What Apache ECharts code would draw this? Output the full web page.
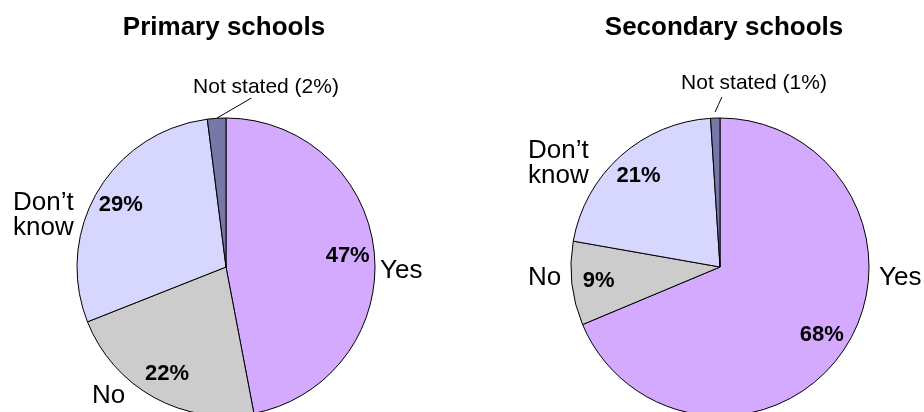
<!DOCTYPE html>
<html>
<head>
<meta charset="utf-8">
<script src="https://cdn.jsdelivr.net/npm/echarts@6/dist/echarts.min.js"></script>
<style>
html,body{margin:0;padding:0;background:#fff;}
#chart{width:924px;height:412px;}
</style>
</head>
<body>
<div id="chart"></div>
<script>
// ---- data ----
const categories = ['Yes', 'No', 'Don\u2019t\nknow', 'Not stated'];
const primaryValues = [47, 22, 29, 2];
const secondaryValues = [68, 9, 21, 1];
const chartTitles = ['Primary schools', 'Secondary schools'];

// ---- styles / layout ----
const colors = ['#d4aaff', '#cccccc', '#d6d6ff', '#7878a8'];
const FONT = 'Liberation Sans, Arial, sans-serif';
const R = 149;
const centers = [[226, 267], [720, 267]];
const labelPos = [
  [ {x: 380, y: 271, align: 'left'},
    {x: 92, y: 396, align: 'left'},
    {x: 13, y: 215, align: 'left'},
    {x: 266, y: 87, align: 'center'} ],
  [ {x: 879, y: 278, align: 'left'},
    {x: 528, y: 278, align: 'left'},
    {x: 528, y: 163, align: 'left'},
    {x: 754, y: 83, align: 'center'} ]
];
// leader line of the "Not stated" label: gap from the slice edge, end point under the label
const guide = [
  {gap: 0, endFrac: 0.40, endDy: 0},
  {gap: 6, endFrac: 0.28, endDy: 3}
];

function mainSeries(values, idx) {
  return {
    type: 'pie',
    center: centers[idx],
    radius: [0, R],
    startAngle: 90,
    clockwise: true,
    avoidLabelOverlap: false,
    animation: false,
    silent: true,
    itemStyle: { borderColor: '#000', borderWidth: 1 },
    label: {
      show: true, position: 'outside', color: '#000',
      fontFamily: FONT, fontSize: 26, lineHeight: 25
    },
    labelLine: { show: false },
    labelLayout: function (p) {
      const q = labelPos[idx][p.dataIndex];
      const out = { x: q.x, y: q.y, align: q.align, verticalAlign: 'middle' };
      if (p.dataIndex === 3 && p.labelLinePoints) {
        const c = centers[idx];
        const a = p.labelLinePoints[0];
        const dx = a[0] - c[0], dy = a[1] - c[1];
        const len = Math.sqrt(dx * dx + dy * dy) || 1;
        const g = guide[idx];
        const s = [a[0] + dx / len * g.gap, a[1] + dy / len * g.gap];
        const w = p.labelRect.width, h = p.labelRect.height;
        const e = [q.x - w / 2 + w * g.endFrac, q.y + h / 2 + g.endDy];
        out.labelLinePoints = [s, [(s[0] + e[0]) / 2, (s[1] + e[1]) / 2], e];
      }
      return out;
    },
    data: values.map(function (v, i) {
      const item = { name: categories[i], value: v, itemStyle: { color: colors[i] } };
      if (i === 3) {
        item.label = { formatter: '{b} (' + v + '%)', fontSize: 21, lineHeight: 22 };
        item.labelLine = { show: true, length: 8, length2: 0, lineStyle: { color: '#000', width: 1 } };
      }
      return item;
    })
  };
}

function pctSeries(values, idx) {
  return {
    type: 'pie',
    center: centers[idx],
    radius: [R * 0.6, R],
    startAngle: 90,
    clockwise: true,
    avoidLabelOverlap: false,
    animation: false,
    silent: true,
    z: 5,
    itemStyle: { color: 'rgba(0,0,0,0)', borderWidth: 0 },
    label: {
      show: true, position: 'inside', color: '#000',
      fontFamily: FONT, fontSize: 22, fontWeight: 'bold',
      formatter: '{c}%'
    },
    labelLine: { show: false },
    data: values.map(function (v, i) {
      const item = { name: categories[i], value: v };
      if (i === 3) item.label = { show: false };
      return item;
    })
  };
}

const chart = echarts.init(document.getElementById('chart'), null, { renderer: 'canvas' });
chart.setOption({
  backgroundColor: '#ffffff',
  animation: false,
  title: chartTitles.map(function (t, i) {
    return {
      text: t, left: i === 0 ? 224 : 724, top: 15, textAlign: 'center', padding: 0,
      textStyle: { fontFamily: FONT, fontSize: 26, fontWeight: 'bold', color: '#000' }
    };
  }),
  series: [
    mainSeries(primaryValues, 0),
    pctSeries(primaryValues, 0),
    mainSeries(secondaryValues, 1),
    pctSeries(secondaryValues, 1)
  ]
});
</script>
</body>
</html>
